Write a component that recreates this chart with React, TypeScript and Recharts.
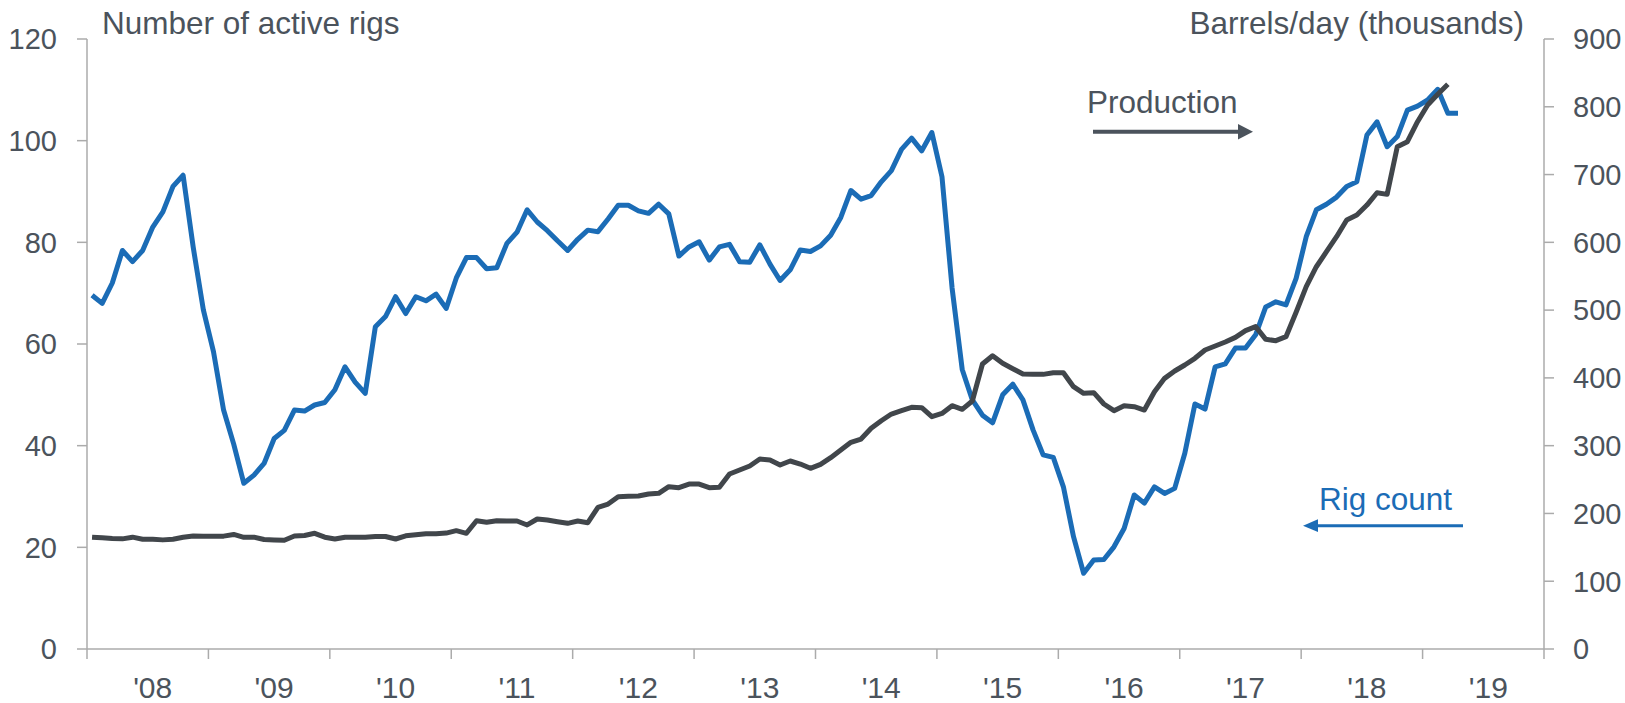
import { LineChart, Line, XAxis, YAxis } from "recharts";

// monthly, Jan 2008 onward
const rigCount = [
  69.6, 68, 72, 78.4, 76.2, 78.4, 83, 86, 91, 93.2, 79, 66.7,
  58.5, 47, 40.3, 32.6, 34.2, 36.5, 41.4, 43, 47, 46.8, 48, 48.5,
  51, 55.5, 52.5, 50.3, 63.4, 65.4, 69.3, 66, 69.3, 68.5, 69.8, 67,
  73, 77, 77, 74.8, 75, 79.8, 82, 86.4, 84, 82.3, 80.3, 78.4,
  80.6, 82.4, 82.1, 84.6, 87.3, 87.3, 86.2, 85.7, 87.5, 85.6, 77.3, 79.1,
  80.1, 76.5, 79.1, 79.6, 76.2, 76.1, 79.5, 75.7, 72.5, 74.6, 78.5, 78.2,
  79.3, 81.4, 84.9, 90.2, 88.5, 89.2, 91.9, 94.1, 98.3, 100.5, 98, 101.6,
  92.9, 71, 55, 49, 46, 44.5, 50, 52.1, 49, 43.1, 38.2, 37.7,
  31.9, 22.1, 14.9, 17.5, 17.6, 20.1, 23.7, 30.3, 28.7, 31.9, 30.6, 31.6,
  38.5, 48.2, 47.2, 55.5, 56.1, 59.2, 59.2, 61.8, 67.3, 68.3, 67.7, 72.9,
  81.1, 86.4, 87.5, 88.9, 91, 91.9, 101.1, 103.7, 98.8, 100.8, 106, 106.8,
  108, 110.1, 105.4, 105.4,
];

const production = [
  165, 164, 163, 162.5, 165, 162, 162, 161, 162, 164.8, 166.7, 166.5,
  166.5, 166.5, 169, 164.8, 165, 161.5, 161, 160.5, 166.7, 167.5, 170.7, 165,
  162.3, 165, 165, 165, 166, 166, 162.3, 167, 168.5, 170, 170, 171,
  174.6, 170.7, 189.3, 186.9, 189.3, 188.8, 188.8, 183, 191.8, 190.3, 187.8, 185.4,
  188.8, 186.4, 209, 213.9, 224.7, 225.2, 225.7, 228.7, 229.7, 239.5, 238, 243.4,
  243.4, 238, 238.5, 258.2, 264.1, 270, 280.3, 278.8, 271.5, 277.4, 272.9, 266.6,
  272.5, 282.3, 293.6, 304.9, 309.8, 325.6, 336.8, 346.7, 351.6, 356.5, 356, 342.7,
  347.6, 359, 353.6, 365.9, 420.5, 432.7, 421.5, 413.6, 405.7, 405.2, 405.2, 407.7,
  407.7, 387, 377.2, 378.2, 361.5, 351.6, 359, 357.5, 352.6, 379.6, 399.3, 410.2,
  419, 428.9, 441.1, 447, 453, 459.8, 469.7, 475.6, 456.9, 454.9, 460.8, 496.8,
  534.6, 564, 586.2, 608.3, 633, 640.3, 655, 673.2, 670.8, 741.1, 748.5, 778,
  802.6, 818.4, 833.1,
];

const yearLabels = ["'08", "'09", "'10", "'11", "'12", "'13", "'14", "'15", "'16", "'17", "'18", "'19"];
const rigTicks = [0, 20, 40, 60, 80, 100, 120];
const prodTicks = [0, 100, 200, 300, 400, 500, 600, 700, 800, 900];

const BLUE = "#1b6cb6";
const DARK = "#41464b";
const TEXT = "#4b535c";
const AXIS = "#ababab";
const FONT = "'Liberation Sans', Arial, sans-serif";

const data = rigCount.map((r, i) => ({
  x: i + 0.5,
  rigs: r,
  prod: i < production.length ? production[i] : null,
}));

// year boundaries get a tick mark, mid-year gets the label
const xTicks: number[] = [];
for (let k = 0; k <= yearLabels.length * 2; k++) xTicks.push(k * 6);

function YearTick(props: any) {
  const { x, y, payload } = props;
  const v = payload.value;
  if (v % 12 === 0) {
    return <line x1={x} y1={y} x2={x} y2={y + 10} stroke={AXIS} strokeWidth={1.5} />;
  }
  const label = yearLabels[(v - 6) / 12];
  return (
    <text x={x + 5} y={y + 49} textAnchor="middle" fill={TEXT} fontSize={30} fontFamily={FONT}>
      {label}
    </text>
  );
}

export default function App() {
  return (
    <div style={{ position: "absolute", left: 0, top: 0, width: 1625, height: 703, background: "#fff" }}>
      <LineChart width={1625} height={703} data={data} margin={{ top: 39, right: 0, bottom: 14, left: 0 }}>
        <XAxis
          dataKey="x"
          type="number"
          domain={[0, 144]}
          ticks={xTicks}
          interval={0}
          tickSize={0}
          tickMargin={0}
          tickLine={false}
          tick={<YearTick />}
          height={40}
          axisLine={{ stroke: AXIS, strokeWidth: 1.5 }}
        />
        <YAxis
          yAxisId="left"
          domain={[0, 120]}
          ticks={rigTicks}
          width={87}
          tickSize={10}
          tickMargin={20}
          axisLine={{ stroke: AXIS, strokeWidth: 1.5 }}
          tickLine={{ stroke: AXIS, strokeWidth: 1.5 }}
          tick={{ fill: TEXT, fontSize: 29, fontFamily: FONT }}
        />
        <YAxis
          yAxisId="right"
          orientation="right"
          domain={[0, 900]}
          ticks={prodTicks}
          width={81}
          tickSize={10}
          tickMargin={19}
          axisLine={{ stroke: AXIS, strokeWidth: 1.5 }}
          tickLine={{ stroke: AXIS, strokeWidth: 1.5 }}
          tick={{ fill: TEXT, fontSize: 29, fontFamily: FONT, textAnchor: "start" }}
        />
        <Line
          yAxisId="left"
          dataKey="rigs"
          stroke={BLUE}
          strokeWidth={5}
          dot={false}
          strokeLinejoin="round"
          isAnimationActive={false}
        />
        <Line
          yAxisId="right"
          dataKey="prod"
          stroke={DARK}
          strokeWidth={5}
          dot={false}
          strokeLinejoin="round"
          isAnimationActive={false}
        />
      </LineChart>
      <svg
        width={1625}
        height={703}
        style={{ position: "absolute", left: 0, top: 0, pointerEvents: "none" }}
        fontFamily={FONT}
      >
        <text x={102} y={34} fontSize={31.5} fill={TEXT}>
          Number of active rigs
        </text>
        <text x={1524} y={34} fontSize={31.5} fill={TEXT} textAnchor="end">
          Barrels/day (thousands)
        </text>
        <text x={1087} y={113} fontSize={31.5} fill={TEXT}>
          Production
        </text>
        <line x1={1093} y1={131.7} x2={1240} y2={131.7} stroke={TEXT} strokeWidth={4} />
        <polygon points="1238,124 1253,131.7 1238,139.5" fill={TEXT} />
        <text x={1319} y={510} fontSize={31.5} fill={BLUE}>
          Rig count
        </text>
        <line x1={1463} y1={525.7} x2={1315} y2={525.7} stroke={BLUE} strokeWidth={3} />
        <polygon points="1318,519.3 1303,525.7 1318,532" fill={BLUE} />
      </svg>
    </div>
  );
}
